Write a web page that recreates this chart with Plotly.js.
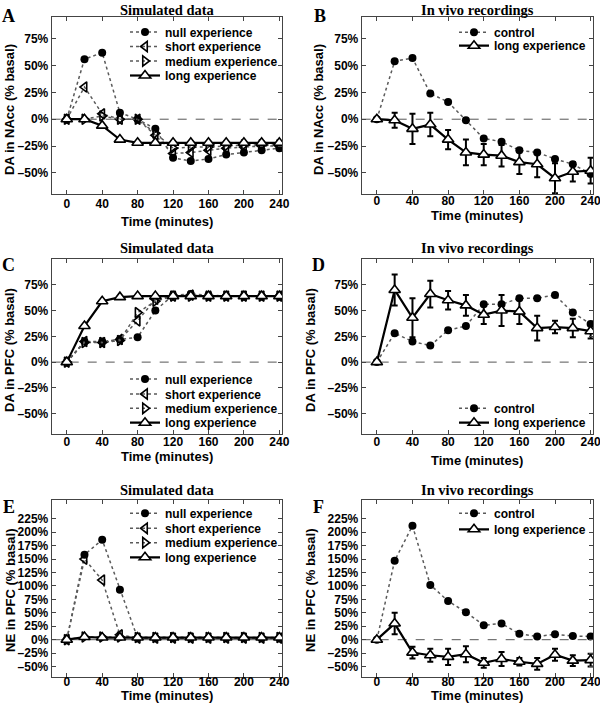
<!DOCTYPE html>
<html>
<head>
<meta charset="utf-8">
<script src="https://cdn.plot.ly/plotly-3.0.1.min.js"></script>
<style>html,body{margin:0;padding:0;background:#fff;}#chart{width:600px;height:713px;}</style>
</head>
<body>
<div id="chart"></div>
<script>
// ---------- data ----------
const time = [0, 20, 40, 60, 80, 100, 120, 140, 160, 180, 200, 220, 240];

// Panel A: DA in NAcc, simulated
const aNull   = [0, 56, 62, 6, 0, -9, -36, -39, -37, -33, -31, -29, -27];
const aShort  = [0, 30, 5, 0, 0, -15, -32, -31, -29, -27, -26, -25, -25];
const aMedium = [0, 0, 3, 0, 0, -13, -27, -26, -26, -25, -24, -24, -24];
const aLong   = [0, 0, -6, -19, -22, -22, -22, -22, -22, -22, -22, -22, -22];

// Panel B: DA in NAcc, in vivo
const bControl = [0, 54, 57, 24, 16, -1, -18, -21, -29, -31, -37, -42, -51];
const bLong    = [0, -1, -9, -5, -19, -31, -33, -34, -40, -42, -55, -49, -48];
const bLongErr = [0, 7, 14, 11, 9, 12, 10, 10, 11, 12, 14, 9, 12];

// Panel C: DA in PFC, simulated
const cNull   = [0, 20, 20, 22, 24, 50, 65, 66, 65, 64, 64, 64, 64];
const cShort  = [0, 20, 19, 22, 40, 61, 64, 65, 64, 64, 64, 64, 64];
const cMedium = [0, 19, 19, 21, 48, 59, 64, 64, 64, 64, 64, 64, 64];
const cLong   = [0, 35, 59, 63, 64, 64, 64, 64, 64, 64, 64, 64, 64];

// Panel D: DA in PFC, in vivo
const dControl = [0, 28, 20, 16, 31, 35, 56, 56, 62, 62, 65, 48, 37];
const dLong    = [0, 70, 43, 66, 60, 55, 46, 50, 49, 33, 34, 33, 30];
const dLongErr = [0, 15, 19, 13, 9, 10, 9, 15, 12, 12, 6, 9, 7];

// Panel E: NE in PFC, simulated
const eNull   = [0, 158, 186, 93, 3, 3, 3, 3, 3, 3, 3, 3, 3];
const eShort  = [0, 150, 111, 9, 3, 3, 3, 3, 3, 3, 3, 3, 3];
const eMedium = [0, 5, 5, 5, 4, 4, 4, 4, 4, 4, 4, 4, 4];
const eLong   = [0, 5, 4, 4, 4, 4, 4, 4, 4, 4, 4, 4, 4];

// Panel F: NE in PFC, in vivo
const fControl = [0, 147, 212, 102, 72, 51, 27, 30, 11, 6, 10, 7, 6];
const fLong    = [0, 30, -24, -29, -32, -27, -43, -36, -41, -45, -28, -39, -38];
const fLongErr = [0, 20, 11, 12, 15, 15, 9, 13, 7, 11, 11, 10, 12];

// tick labels
const xTickVals = [0, 40, 80, 120, 160, 200, 240];
const xTickText = ['0', '40', '80', '120', '160', '200', '240'];
const daTickVals = [-50, -25, 0, 25, 50, 75];
const daTickText = ['\u201350%', '\u201325%', '0%', '25%', '50%', '75%'];
const neTickVals = [-50, -25, 0, 25, 50, 75, 100, 125, 150, 175, 200, 225];
const neTickText = ['\u201350%', '\u201325%', '0%', '25%', '50%', '75%', '100%', '125%', '150%', '175%', '200%', '225%'];

const simNames = ['null experience', 'short experience', 'medium experience', 'long experience'];
const vivoNames = ['control', 'long experience'];

// ---------- styles ----------
const SANS = 'Liberation Sans, Arial, Helvetica, sans-serif';
const SERIF = 'Liberation Serif, Times New Roman, serif';
const DOT = {color: '#5a5a5a', width: 1.5, dash: 'dot'};
const SOLID = {color: '#000', width: 2.2};

let legCount = 0;
const legendDefs = {};
function nextLegend(xpx, ypx) {
  legCount += 1;
  const key = legCount === 1 ? 'legend' : 'legend' + legCount;
  legendDefs[key] = {x: xpx / 600, y: 1 - ypx / 713, xanchor: 'left', yanchor: 'middle',
    bgcolor: 'rgba(0,0,0,0)', borderwidth: 0,
    font: {family: SANS, size: 12, color: '#000', weight: 'bold'}, itemwidth: 30};
  return key;
}

function simTraces(ax, ay, lx, ly, n, s, m, l) {
  return [
    {x: time, y: n, name: simNames[0], xaxis: ax, yaxis: ay, legend: nextLegend(lx, ly[0]), mode: 'lines+markers',
     line: DOT, marker: {symbol: 'circle', size: 8, color: '#000'}},
    {x: time, y: s, name: simNames[1], xaxis: ax, yaxis: ay, legend: nextLegend(lx, ly[1]), mode: 'lines+markers',
     line: DOT, marker: {symbol: 'triangle-left-open', size: 9, color: '#000', line: {width: 1.6, color: '#000'}}},
    {x: time, y: m, name: simNames[2], xaxis: ax, yaxis: ay, legend: nextLegend(lx, ly[2]), mode: 'lines+markers',
     line: DOT, marker: {symbol: 'triangle-right-open', size: 9, color: '#000', line: {width: 1.6, color: '#000'}}},
    {x: time, y: l, name: simNames[3], xaxis: ax, yaxis: ay, legend: nextLegend(lx, ly[3]), mode: 'lines+markers',
     line: SOLID, marker: {symbol: 'triangle-up', size: 10, color: '#fff', line: {width: 1.6, color: '#000'}}}
  ];
}
function vivoTraces(ax, ay, lx, ly, c, l, e) {
  return [
    {x: time, y: c, name: vivoNames[0], xaxis: ax, yaxis: ay, legend: nextLegend(lx, ly[0]), mode: 'lines+markers',
     line: DOT, marker: {symbol: 'circle', size: 8, color: '#000'}},
    {x: time, y: l, name: vivoNames[1], xaxis: ax, yaxis: ay, legend: nextLegend(lx, ly[1]), mode: 'lines+markers',
     line: SOLID, marker: {symbol: 'triangle-up', size: 10, color: '#fff', line: {width: 1.6, color: '#000'}},
     error_y: {type: 'data', array: e, visible: true, color: '#000', thickness: 2, width: 3}}
  ];
}

const data = [].concat(
  simTraces('x', 'y', 125, [32, 46.5, 61, 75.5], aNull, aShort, aMedium, aLong),
  vivoTraces('x2', 'y2', 454, [32.3, 45.7], bControl, bLong, bLongErr),
  simTraces('x3', 'y3', 125, [379, 394, 408.3, 422.7], cNull, cShort, cMedium, cLong),
  vivoTraces('x4', 'y4', 454, [408.3, 422.7], dControl, dLong, dLongErr),
  simTraces('x5', 'y5', 125, [513.3, 528.3, 542.7, 557.3], eNull, eShort, eMedium, eLong),
  vivoTraces('x6', 'y6', 454, [513.3, 529.3], fControl, fLong, fLongErr)
);

// ---------- layout helpers ----------
const W = 600, H = 713;
const tickFont = {family: SANS, size: 12, color: '#000', weight: 'bold'};
function xAx(x0, x1, anchor, standoff) {
  return {domain: [x0 / W, x1 / W], range: [-17, 243], anchor: anchor,
    tickmode: 'array', tickvals: xTickVals, ticktext: xTickText,
    ticks: 'inside', ticklen: 4, tickcolor: '#444', linecolor: '#444', linewidth: 1,
    mirror: 'ticks', showline: true, showgrid: false, zeroline: false, tickfont: tickFont, fixedrange: true,
    ticklabeloverflow: 'allow', ticklabelstandoff: standoff};
}
function yAx(y0, y1, range, tv, tt, anchor) {
  return {domain: [1 - y1 / H, 1 - y0 / H], range: range, anchor: anchor,
    tickmode: 'array', tickvals: tv, ticktext: tt,
    ticks: 'inside', ticklen: 4, tickcolor: '#444', linecolor: '#444', linewidth: 1,
    mirror: 'ticks', showline: true, showgrid: false, zeroline: false, tickfont: tickFont, fixedrange: true,
    ticklabeloverflow: 'allow'};
}
function zero(xr, yr) {
  return {type: 'line', xref: xr + ' domain', x0: 0, x1: 1, yref: yr, y0: 0, y1: 0,
    line: {color: '#555', width: 1, dash: 'dash'}, layer: 'below'};
}
function ann(text, xpx, ypx, font, angle) {
  return {text: text, x: xpx / W, y: 1 - ypx / H, xref: 'paper', yref: 'paper', showarrow: false,
    xanchor: 'center', yanchor: 'middle', font: font, textangle: angle || 0};
}

const titleFont = {family: SERIF, size: 14.5, color: '#000', weight: 'bold'};
const letterFont = {family: SERIF, size: 18, color: '#000', weight: 'bold'};
const axFont = {family: SANS, size: 13, color: '#000', weight: 'bold'};

const LX0 = 51.7, LX1 = 282, RX0 = 361.7, RX1 = 593.3;
const layout = Object.assign({
  width: W, height: H, autosize: false,
  margin: {l: 0, r: 0, t: 0, b: 0},
  paper_bgcolor: '#fff', plot_bgcolor: '#fff',
  showlegend: true,
  xaxis: xAx(LX0, LX1, 'y', -2),   yaxis: yAx(17.3, 194.3, [-70, 95], daTickVals, daTickText, 'x'),
  xaxis2: xAx(RX0, RX1, 'y2', -5), yaxis2: yAx(17.3, 194.3, [-70, 95], daTickVals, daTickText, 'x2'),
  xaxis3: xAx(LX0, LX1, 'y3', -4), yaxis3: yAx(259, 434.3, [-70, 100], daTickVals, daTickText, 'x3'),
  xaxis4: xAx(RX0, RX1, 'y4', -4), yaxis4: yAx(259, 434.3, [-70, 100], daTickVals, daTickText, 'x4'),
  xaxis5: xAx(LX0, LX1, 'y5', -7), yaxis5: yAx(500, 677.3, [-70, 260], neTickVals, neTickText, 'x5'),
  xaxis6: xAx(RX0, RX1, 'y6', -7), yaxis6: yAx(500, 677.3, [-70, 260], neTickVals, neTickText, 'x6'),
  shapes: [zero('x', 'y'), zero('x2', 'y2'), zero('x3', 'y3'), zero('x4', 'y4'), zero('x5', 'y5'), zero('x6', 'y6')],
  annotations: [
    ann('A', 8.5, 16, letterFont), ann('B', 319.5, 16, letterFont),
    ann('C', 8.5, 265, letterFont), ann('D', 318.5, 265, letterFont),
    ann('E', 8.5, 507, letterFont), ann('F', 318.5, 507, letterFont),
    ann('Simulated data', 167, 10, titleFont), ann('In vivo recordings', 477.5, 10, titleFont),
    ann('Simulated data', 167, 248, titleFont), ann('In vivo recordings', 477.5, 248, titleFont),
    ann('Simulated data', 167, 490, titleFont), ann('In vivo recordings', 477.5, 490, titleFont),
    ann('Time (minutes)', 167, 221.5, axFont), ann('Time (minutes)', 477.5, 215.5, axFont),
    ann('Time (minutes)', 167, 456, axFont), ann('Time (minutes)', 477.5, 460, axFont),
    ann('Time (minutes)', 167, 695, axFont), ann('Time (minutes)', 477.5, 695, axFont),
    ann('DA in NAcc (% basal)', 10, 110, axFont, -90), ann('DA in NAcc (% basal)', 319, 110, axFont, -90),
    ann('DA in PFC (% basal)', 10, 350, axFont, -90), ann('DA in PFC (% basal)', 311, 350, axFont, -90),
    ann('NE in PFC (% basal)', 10, 590, axFont, -90), ann('NE in PFC (% basal)', 310, 590, axFont, -90)
  ]
}, legendDefs);

Plotly.newPlot('chart', data, layout, {displayModeBar: false, staticPlot: true});
</script>
</body>
</html>
